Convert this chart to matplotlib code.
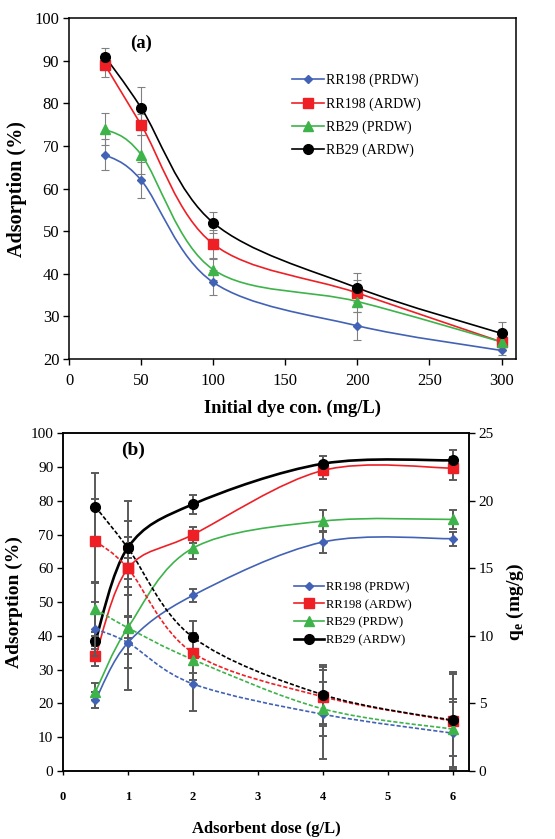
import numpy as np
import matplotlib
matplotlib.use('Agg')
import matplotlib.pyplot as plt
from matplotlib.path import Path
from matplotlib.patches import PathPatch
from matplotlib.lines import Line2D

plt.rcParams['font.family'] = ['Liberation Serif', 'DejaVu Serif']
plt.rcParams['mathtext.fontset'] = 'custom'
plt.rcParams['mathtext.rm'] = 'Liberation Serif'
plt.rcParams['mathtext.bf'] = 'Liberation Serif:bold'

# ---- datos panel (a): efecto de la concentracion inicial ----
conc = [25, 50, 100, 200, 300]
a_rr198_p = [68, 62, 38, 27.8, 22]
a_rr198_a = [89, 75, 47, 35.5, 24]
a_rb29_p = [74, 68, 41, 33.5, 24]
a_rb29_a = [91, 79, 52, 36.7, 26]
ea_rr198_p = [3.6, 4.3, 3.0, 3.3, 1.0]
ea_rr198_a = [2.9, 2.5, 3.4, 3.0, 1.0]
ea_rb29_p = [3.7, 4.6, 2.5, 2.5, 1.0]
ea_rb29_a = [2.1, 4.9, 2.5, 3.4, 2.8]

# ---- datos panel (b): efecto de la dosis de adsorbente ----
dose = [0.5, 1, 2, 4, 6]
b_rr198_p = [21, 38, 52, 67.8, 68.8]
b_rr198_a = [34, 60, 70, 89, 89.7]
b_rb29_p = [23.5, 42.5, 66, 74, 74.5]
b_rb29_a = [38.6, 66.2, 79, 91, 92]
eb_rr198_p = [2.3, 3.5, 2.0, 3.3, 2.1]
eb_rr198_a = [3.0, 3.0, 2.4, 2.5, 3.4]
eb_rb29_p = [2.5, 3.0, 3.3, 3.2, 2.8]
eb_rb29_a = [2.5, 3.0, 2.8, 2.2, 3.0]
# qe (mg/g), eje derecho
q_rr198_p = [10.5, 9.5, 6.45, 4.2, 2.8]
q_rr198_a = [17.0, 15.0, 8.75, 5.5, 3.7]
q_rb29_p = [12.0, 10.6, 8.25, 4.6, 3.1]
q_rb29_a = [19.55, 16.5, 9.9, 5.65, 3.75]
eq_rr198_p = [2.0, 3.5, 2.0, 3.3, 2.5]
eq_rr198_a = [3.1, 3.5, 1.5, 2.2, 3.5]
eq_rb29_p = [2.0, 3.0, 1.5, 2.0, 2.0]
eq_rb29_a = [2.5, 3.5, 1.2, 2.2, 3.6]

labels = ['RR198 (PRDW)', 'RR198 (ARDW)', 'RB29 (PRDW)', 'RB29 (ARDW)']
colors = ['#4262B6', '#EE2026', '#3DB34A', '#000000']
markers = ['D', 's', '^', 'o']
msizes = [4.5, 7, 7, 7]


def smooth_path(x, y):
    # curva suavizada tipo Excel (Bezier cubica)
    p = np.column_stack([x, y]).astype(float)
    n = len(p)
    verts, codes = [p[0]], [Path.MOVETO]
    for i in range(n - 1):
        p0, p1, p2, p3 = p[max(i - 1, 0)], p[i], p[i + 1], p[min(i + 2, n - 1)]
        verts += [p1 + (p2 - p0) / 6., p2 - (p3 - p1) / 6., p2]
        codes += [Path.CURVE4] * 3
    return Path(verts, codes)


def serie(ax, x, y, e, c, m, ms, lw, ls='-', ecol='#808080', elw=0.8, cap=3):
    ax.errorbar(x, y, yerr=e, fmt='none', ecolor=ecol, elinewidth=elw,
                capsize=cap, capthick=elw, zorder=2)
    ax.add_patch(PathPatch(smooth_path(x, y), fill=False, edgecolor=c,
                           lw=lw, ls=ls, zorder=3))
    ax.plot(x, y, ls='none', marker=m, ms=ms, color=c, zorder=4)


fig = plt.figure(figsize=(5.55, 8.39), dpi=100)
W, H = 555., 839.

# ================= (a) =================
L, R, T, B = 69, 516, 18.3, 359
ax = fig.add_axes([L / W, 1 - B / H, (R - L) / W, (B - T) / H])
ya = [a_rr198_p, a_rr198_a, a_rb29_p, a_rb29_a]
ea = [ea_rr198_p, ea_rr198_a, ea_rb29_p, ea_rb29_a]
for i in range(4):
    serie(ax, conc, ya[i], ea[i], colors[i], markers[i], msizes[i], 1.2)
ax.set_xlim(0, 310)
ax.set_ylim(20, 100)
ax.set_xticks(np.arange(0, 301, 50))
ax.set_yticks(np.arange(20, 101, 10))
ax.tick_params(direction='out', length=4, width=1, labelsize=12)
ax.tick_params(axis='x', pad=6)
ax.tick_params(axis='y', pad=3)
for s in ax.spines.values():
    s.set_linewidth(1.1)
ax.set_xlabel('Initial dye con. (mg/L)', fontsize=13.3, fontweight='bold', labelpad=8)
ax.set_ylabel('Adsorption (%)', fontsize=14.5, fontweight='bold', labelpad=5)
ax.text((141 - L) / (R - L), 1 - (43.5 - T) / (B - T), '(a)',
        transform=ax.transAxes, ha='center', va='center', fontsize=13.5, fontweight='bold')
hand = [Line2D([], [], color=colors[i], marker=markers[i], ms=msizes[i], lw=1.2)
        for i in range(4)]
ax.legend(hand, labels, loc='upper left', bbox_to_anchor=(292 / W, 1 - 74 / H),
          bbox_transform=fig.transFigure, frameon=False, fontsize=10,
          handlelength=2.3, handletextpad=0.15, labelspacing=0.7, borderpad=0,
          borderaxespad=0)

# ================= (b) =================
L, R, T, B = 63, 469, 433.3, 771
bx = fig.add_axes([L / W, 1 - B / H, (R - L) / W, (B - T) / H])
bq = bx.twinx()
yb = [b_rr198_p, b_rr198_a, b_rb29_p, b_rb29_a]
eb = [eb_rr198_p, eb_rr198_a, eb_rb29_p, eb_rb29_a]
qb = [q_rr198_p, q_rr198_a, q_rb29_p, q_rb29_a]
eqb = [eq_rr198_p, eq_rr198_a, eq_rb29_p, eq_rb29_a]
for i in range(4):
    lw = 1.9 if i == 3 else 1.2
    serie(bx, dose, yb[i], eb[i], colors[i], markers[i], msizes[i], lw,
          ecol='#5a5a5a', elw=1.4, cap=3)
    serie(bq, dose, qb[i], eqb[i], colors[i], markers[i], msizes[i], 1.2,
          ls=(0, (2.5, 1.2)), ecol='#5a5a5a', elw=1.4, cap=3)
bx.set_xlim(0, 6.25)
bx.set_ylim(0, 100)
bq.set_ylim(0, 25)
bx.set_xticks(np.arange(0, 7, 1))
bx.set_yticks(np.arange(0, 101, 10))
bq.set_yticks(np.arange(0, 26, 5))
bx.tick_params(axis='y', direction='out', length=4, width=1, labelsize=11, pad=3)
bq.tick_params(axis='y', direction='out', length=4, width=1, labelsize=11, pad=3)
bx.tick_params(axis='x', direction='out', length=3, width=1, pad=11.5)
for t in bx.get_xticklabels():
    t.set_fontsize(9)
    t.set_fontweight('bold')
for s in list(bx.spines.values()) + list(bq.spines.values()):
    s.set_linewidth(1.1)
bx.set_xlabel('Adsorbent dose (g/L)', fontsize=12, fontweight='bold', labelpad=13)
bx.set_ylabel('Adsorption (%)', fontsize=14, fontweight='bold', labelpad=5)
bq.set_ylabel(r'q$_{\mathbf{e}}$ (mg/g)', fontsize=14, fontweight='bold', labelpad=8)
bx.text((133.5 - L) / (R - L), 1 - (450 - T) / (B - T), '(b)',
        transform=bx.transAxes, ha='center', va='center', fontsize=14, fontweight='bold')
hand = [Line2D([], [], color=colors[i], marker=markers[i], ms=msizes[i],
               lw=1.9 if i == 3 else 1.2) for i in range(4)]
bq.legend(hand, labels, loc='upper left', bbox_to_anchor=(294 / W, 1 - 581 / H),
          bbox_transform=fig.transFigure, frameon=False, fontsize=9.1,
          handlelength=2.4, handletextpad=0.1, labelspacing=0.46, borderpad=0,
          borderaxespad=0)

plt.savefig('out.png', dpi=100)
